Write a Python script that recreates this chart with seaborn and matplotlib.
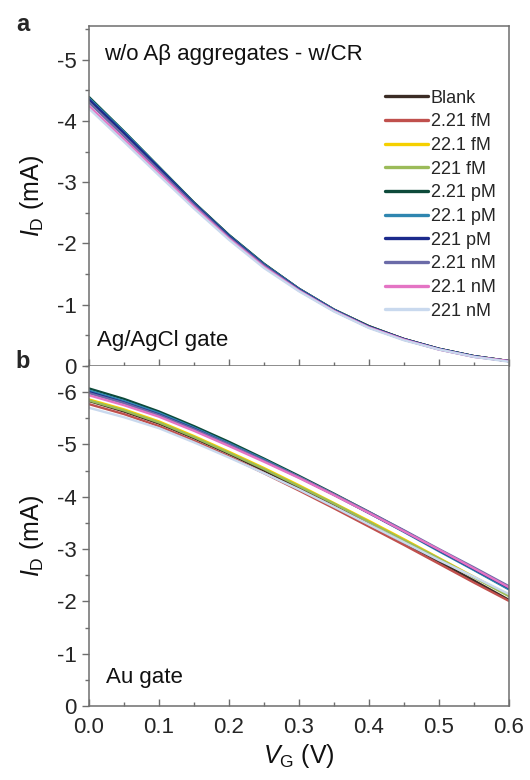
import numpy as np
import pandas as pd
import matplotlib
matplotlib.use("Agg")
import matplotlib.pyplot as plt
from matplotlib.ticker import MultipleLocator, FormatStrFormatter
import seaborn as sns

sns.set_theme(style="ticks")
plt.rcParams["font.family"] = ["Liberation Sans", "DejaVu Sans"]
plt.rcParams["axes.unicode_minus"] = False
plt.rcParams["mathtext.fontset"] = "custom"
plt.rcParams["mathtext.it"] = "Liberation Sans:italic"
plt.rcParams["mathtext.rm"] = "Liberation Sans"

# Gate voltage (V)
v_gate = [0.00, 0.05, 0.10, 0.15, 0.20, 0.25, 0.30, 0.35, 0.40, 0.45, 0.50, 0.55, 0.60]

labels = ["Blank", "2.21 fM", "22.1 fM", "221 fM", "2.21 pM",
          "22.1 pM", "221 pM", "2.21 nM", "22.1 nM", "221 nM"]
colors = ["#3b2c25", "#c0504d", "#f5d000", "#9bbb59", "#0d4a3a",
          "#2f86b0", "#1c2a8c", "#6b6ba8", "#e474c4", "#c9d9ee"]

# Drain current (mA), Ag/AgCl gate
agcl_blank = [-4.37, -3.81, -3.23, -2.66, -2.13, -1.66, -1.26, -0.92, -0.65, -0.44, -0.28, -0.16, -0.08]
agcl_2_21fM = [-4.34, -3.79, -3.22, -2.66, -2.13, -1.66, -1.26, -0.92, -0.64, -0.44, -0.28, -0.16, -0.08]
agcl_22_1fM = [-4.33, -3.78, -3.21, -2.65, -2.12, -1.65, -1.25, -0.91, -0.64, -0.44, -0.28, -0.16, -0.08]
agcl_221fM = [-4.33, -3.78, -3.21, -2.65, -2.12, -1.65, -1.25, -0.91, -0.64, -0.43, -0.28, -0.16, -0.08]
agcl_2_21pM = [-4.39, -3.83, -3.25, -2.67, -2.14, -1.67, -1.26, -0.92, -0.65, -0.44, -0.28, -0.16, -0.08]
agcl_22_1pM = [-4.37, -3.82, -3.24, -2.66, -2.13, -1.66, -1.26, -0.92, -0.64, -0.44, -0.28, -0.16, -0.08]
agcl_221pM = [-4.35, -3.80, -3.23, -2.65, -2.12, -1.65, -1.25, -0.91, -0.64, -0.44, -0.28, -0.16, -0.08]
agcl_2_21nM = [-4.30, -3.75, -3.19, -2.63, -2.10, -1.64, -1.24, -0.90, -0.63, -0.43, -0.27, -0.15, -0.08]
agcl_22_1nM = [-4.24, -3.70, -3.15, -2.60, -2.08, -1.62, -1.23, -0.90, -0.63, -0.43, -0.27, -0.15, -0.08]
agcl_221nM = [-4.20, -3.66, -3.11, -2.57, -2.06, -1.60, -1.22, -0.89, -0.62, -0.42, -0.27, -0.15, -0.07]

# Drain current (mA), Au gate
au_blank = [-5.83, -5.63, -5.40, -5.12, -4.82, -4.50, -4.17, -3.83, -3.48, -3.12, -2.76, -2.40, -2.03]
au_2_21fM = [-5.77, -5.58, -5.35, -5.07, -4.77, -4.45, -4.12, -3.78, -3.43, -3.08, -2.72, -2.36, -2.01]
au_22_1fM = [-5.86, -5.67, -5.44, -5.16, -4.86, -4.55, -4.22, -3.88, -3.54, -3.19, -2.83, -2.47, -2.11]
au_221fM = [-5.84, -5.65, -5.42, -5.14, -4.84, -4.53, -4.20, -3.87, -3.52, -3.17, -2.82, -2.46, -2.10]
au_2_21pM = [-6.07, -5.87, -5.63, -5.35, -5.05, -4.73, -4.40, -4.06, -3.71, -3.35, -2.98, -2.61, -2.24]
au_22_1pM = [-6.03, -5.83, -5.60, -5.32, -5.02, -4.71, -4.38, -4.04, -3.69, -3.33, -2.96, -2.60, -2.23]
au_221pM = [-6.00, -5.80, -5.57, -5.30, -5.00, -4.69, -4.37, -4.04, -3.69, -3.34, -2.98, -2.62, -2.26]
au_2_21nM = [-5.98, -5.79, -5.56, -5.29, -5.00, -4.69, -4.38, -4.05, -3.71, -3.36, -3.00, -2.65, -2.29]
au_22_1nM = [-5.94, -5.75, -5.53, -5.26, -4.97, -4.67, -4.36, -4.03, -3.69, -3.34, -2.99, -2.63, -2.27]
au_221nM = [-5.70, -5.52, -5.31, -5.04, -4.75, -4.45, -4.14, -3.81, -3.47, -3.13, -2.79, -2.47, -2.14]

agcl_series = [agcl_blank, agcl_2_21fM, agcl_22_1fM, agcl_221fM, agcl_2_21pM,
               agcl_22_1pM, agcl_221pM, agcl_2_21nM, agcl_22_1nM, agcl_221nM]
au_series = [au_blank, au_2_21fM, au_22_1fM, au_221fM, au_2_21pM,
             au_22_1pM, au_221pM, au_2_21nM, au_22_1nM, au_221nM]


def long_table(series):
    rows = []
    for lab, vals in zip(labels, series):
        for v, i in zip(v_gate, vals):
            rows.append((lab, v, i))
    return pd.DataFrame(rows, columns=["conc", "VG", "ID"])


fig = plt.figure(figsize=(5.3, 7.8), dpi=100)
ax_top = fig.add_axes([0.168, 0.5308, 0.792, 0.4359])
ax_bot = fig.add_axes([0.168, 0.0949, 0.792, 0.4359])

spine_color = "#6e6e6e"
for ax, series, ymin in ((ax_top, agcl_series, -5.55), (ax_bot, au_series, -6.5)):
    df = long_table(series)
    sns.lineplot(data=df, x="VG", y="ID", hue="conc", hue_order=labels,
                 palette=colors, linewidth=1.7, ax=ax, legend=(ax is ax_top),
                 sort=False)
    ax.set_xlim(0, 0.6)
    ax.set_ylim(0, ymin)
    ax.xaxis.set_major_locator(MultipleLocator(0.1))
    ax.xaxis.set_minor_locator(MultipleLocator(0.05))
    ax.yaxis.set_major_locator(MultipleLocator(1))
    ax.yaxis.set_minor_locator(MultipleLocator(0.5))
    ax.yaxis.set_major_formatter(FormatStrFormatter("%d"))
    ax.tick_params(axis="x", which="both", direction="in", color=spine_color,
                   top=False, width=1)
    ax.tick_params(axis="x", which="major", length=5)
    ax.tick_params(axis="x", which="minor", length=3)
    ax.tick_params(axis="y", which="both", direction="out", color=spine_color,
                   right=False, width=1, labelsize=16, pad=4)
    ax.tick_params(axis="y", which="major", length=5)
    ax.tick_params(axis="y", which="minor", length=3)
    for sp in ax.spines.values():
        sp.set_color(spine_color)
        sp.set_linewidth(1.1)
    ax.set_ylabel(r"$I_{\mathrm{D}}$ (mA)", fontsize=18, labelpad=8, color="#111111")
    ax.set_xlabel("")

ax_top.tick_params(axis="x", labelbottom=False)
ax_top.spines["bottom"].set_zorder(5)
ax_bot.spines["top"].set_visible(False)
ax_bot.tick_params(axis="x", labelsize=16, pad=8)
ax_bot.set_xlabel(r"$V_{\mathrm{G}}$ (V)", fontsize=18, labelpad=3, color="#111111")
ax_bot.xaxis.set_major_formatter(FormatStrFormatter("%.1f"))

leg = ax_top.legend(loc="upper right", bbox_to_anchor=(0.995, 0.845), frameon=False,
                    fontsize=13, handlelength=2.4, handletextpad=0.15,
                    labelspacing=0.37, borderaxespad=0.2)
for line in leg.get_lines():
    line.set_linewidth(2.4)

ax_top.text(0.035, 0.915, "w/o A\u03b2 aggregates - w/CR", transform=ax_top.transAxes,
            fontsize=16, va="center", ha="left", color="#111111")
ax_top.text(0.02, 0.076, "Ag/AgCl gate", transform=ax_top.transAxes,
            fontsize=16, va="center", ha="left", color="#111111")
ax_bot.text(0.04, 0.085, "Au gate", transform=ax_bot.transAxes,
            fontsize=16, va="center", ha="left", color="#111111")

fig.text(0.03, 0.968, "a", fontsize=17, fontweight="bold", va="center")
fig.text(0.03, 0.537, "b", fontsize=17, fontweight="bold", va="center")

fig.savefig("out.png", dpi=100)
